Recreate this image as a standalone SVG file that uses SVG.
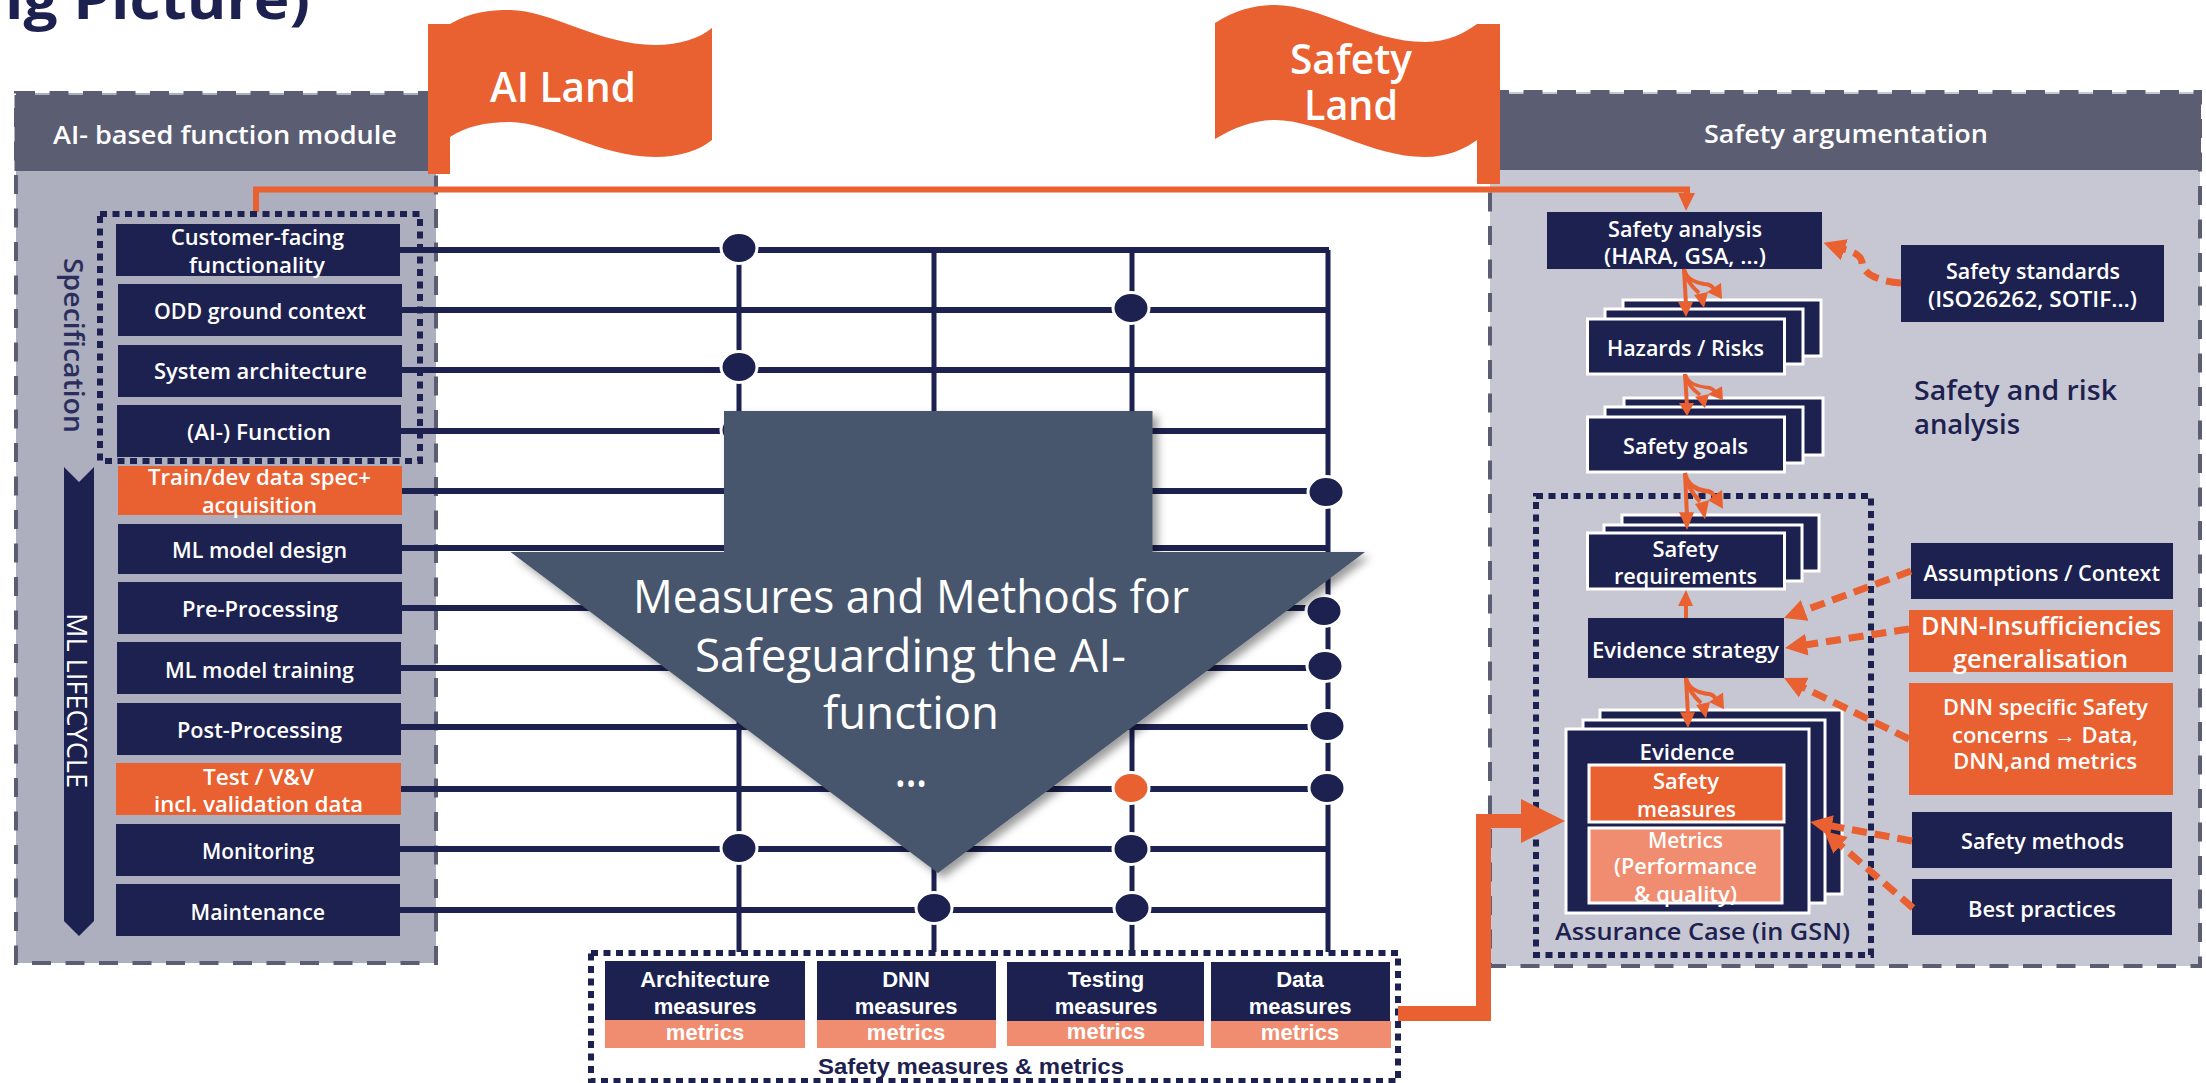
<svg xmlns="http://www.w3.org/2000/svg" width="2206" height="1083" viewBox="0 0 2206 1083">
<style>
text{font-family:"Open Sans","Noto Sans","Liberation Sans",sans-serif;font-weight:600;fill:#fff;font-size:21px}
text:not([transform]){transform:translateY(1px)}
.navy{fill:#1d2150}.org{fill:#e96031}.sal{fill:#f08d70}
.n{fill:#1d2150}.st{fill:#1d2150;stroke:#fff;stroke-width:3}
.ar{font-family:"Liberation Sans",Arial,sans-serif;font-weight:700;font-size:22px}
.dot{fill:none;stroke:#1d2150;stroke-width:6;stroke-dasharray:7 5.5}
.pb{stroke:#5b5d73;stroke-width:4;stroke-dasharray:19 14.5}
.h{fill:none;stroke:#1d2150;stroke-width:6}
.v{fill:none;stroke:#1d2150;stroke-width:5}
.o{fill:#1d2150;stroke:#fff;stroke-width:3}
.dash{fill:none;stroke:#e96031;stroke-width:7;stroke-dasharray:15 8;marker-end:url(#dh)}
.br{fill:none;stroke:#e96031;stroke-width:4}
</style>
<defs>
<marker id="dh" markerUnits="userSpaceOnUse" markerWidth="24" markerHeight="24" viewBox="0 0 24 24" refX="12" refY="12" orient="auto"><path d="M0,1L22,12L0,23Z" fill="#e96031"/></marker>
<filter id="sh" x="-10%" y="-10%" width="120%" height="120%"><feDropShadow dx="5" dy="5" stdDeviation="4" flood-color="#000" flood-opacity=".4"/></filter>
<g id="branch">
<path class="br" d="M0,0L2,36"/><path class="org" d="M-6,33H9L2,48Z"/>
<path class="br" d="M0,0C2,10 12,14 20,15C24,15 28,17 30,20"/><path class="org" d="M23,23L37,14L38,30Z"/>
<path class="br" d="M0,2C3,12 8,18 15,24"/><path class="org" d="M10,26L24,23L20,39Z"/>
</g>
</defs>

<text class="navy" x="5" y="18" textLength="305" lengthAdjust="spacingAndGlyphs" style="font-size:56px;font-weight:700">ig Picture)</text>

<g id="panel-left">
<rect class="pb" x="16" y="93" width="420" height="870" fill="#adafbf"/>
<rect x="14.5" y="95" width="422" height="76" fill="#5b5d73"/>
<text x="53" y="143" textLength="344" lengthAdjust="spacingAndGlyphs" style="font-size:25px">AI- based function module</text>
</g>
<g id="panel-right">
<rect class="pb" x="1490" y="92" width="710" height="874" fill="#c6c7d3"/>
<rect x="1490" y="94" width="711" height="76" fill="#5b5d73"/>
<text x="1704" y="142" textLength="284" lengthAdjust="spacingAndGlyphs" style="font-size:25px">Safety argumentation</text>
</g>

<g id="connectors-grid">
<path class="h" d="M400,250H1329M402,310H1329M402,370H1329M401,431H1329M402,491H1329M402,548H1329M402,608H1329M401,668H1329M401,727H1329M401,789H1329M400,849H1329M400,910H1329"/>
<path class="v" d="M739,250V952M934,250V952M1132,250V952M1328,250V952"/>
<ellipse class="o" cx="739" cy="248" rx="18" ry="15.5"/>
<ellipse class="o" cx="1131" cy="308" rx="18" ry="15.5"/>
<ellipse class="o" cx="739" cy="367" rx="18" ry="15.5"/>
<ellipse class="o" cx="739" cy="430" rx="18" ry="15.5"/>
<ellipse class="o" cx="1326" cy="492" rx="18" ry="15.5"/>
<ellipse class="o" cx="1324" cy="611" rx="18" ry="15.5"/>
<ellipse class="o" cx="1325" cy="666" rx="18" ry="15.5"/>
<ellipse class="o" cx="1327" cy="726" rx="18" ry="15.5"/>
<ellipse class="o" cx="1327" cy="788" rx="18" ry="15.5"/>
<ellipse class="o" cx="1131" cy="788" rx="18" ry="15.5" style="fill:#e96031"/>
<ellipse class="o" cx="739" cy="848" rx="18" ry="15.5"/>
<ellipse class="o" cx="1131" cy="849" rx="18" ry="15.5"/>
<ellipse class="o" cx="934" cy="908" rx="18" ry="15.5"/>
<ellipse class="o" cx="1132" cy="908" rx="18" ry="15.5"/>
<path fill="none" stroke="#e96031" stroke-width="6" d="M256,212V189.5H1687V196"/>
</g>

<g id="flag-ai">
<path class="org" d="M428,24H450C470,12 490,10 510,10C550,10 600,45 655,45C680,45 700,38 712,28V140C700,150 680,157 655,157C600,157 550,122 510,122C485,122 465,127 450,137V174H428Z"/>
<text x="490" y="101" textLength="146" lengthAdjust="spacingAndGlyphs" style="font-size:41px">AI Land</text>
</g>
<g id="flag-safety">
<path class="org" d="M1215,23C1235,10 1255,5 1275,5C1320,5 1370,42 1425,42C1447,42 1465,33 1477,24H1500V184H1477V140C1465,149 1447,157 1425,157C1370,157 1320,120 1275,120C1255,120 1235,127 1215,139Z"/>
<text x="1290" y="73" textLength="122" lengthAdjust="spacingAndGlyphs" style="font-size:41px">Safety</text>
<text x="1304" y="119" textLength="94" lengthAdjust="spacingAndGlyphs" style="font-size:41px">Land</text>
</g>

<g id="big-arrow">
<path fill="#46566d" filter="url(#sh)" d="M724,411H1152.5V552H1365L938,873L510.5,552H724Z"/>
<text x="633" y="612" textLength="556" lengthAdjust="spacingAndGlyphs" style="font-size:45px;font-weight:400">Measures and Methods for</text>
<text x="695" y="671" textLength="431" lengthAdjust="spacingAndGlyphs" style="font-size:45px;font-weight:400">Safeguarding the AI-</text>
<text x="823" y="728" textLength="176" lengthAdjust="spacingAndGlyphs" style="font-size:45px;font-weight:400">function</text>
<text x="895" y="786" textLength="32" lengthAdjust="spacingAndGlyphs" style="font-size:45px;font-weight:600">...</text>
</g>

<g id="spec-label"><text class="navy" transform="translate(64,258) rotate(90)" textLength="175" lengthAdjust="spacingAndGlyphs" style="font-size:27px;font-weight:600;fill:#2b2e5c">Specification</text></g>
<g id="lifecycle">
<path class="n" d="M64,467L79,482L94,467V921L79,936L64,921Z"/>
<text transform="translate(67,613) rotate(90)" textLength="175" lengthAdjust="spacingAndGlyphs" style="font-size:27px;font-weight:400">ML LIFECYCLE</text>
</g>
<rect id="spec-box" class="dot" x="100" y="214" width="320" height="247"/>

<g id="n-customer"><rect class="n" x="116" y="224" width="284" height="52"/><text x="171" y="244" textLength="173" lengthAdjust="spacingAndGlyphs">Customer-facing</text><text x="189" y="272" textLength="136" lengthAdjust="spacingAndGlyphs">functionality</text></g>
<g id="n-odd"><rect class="n" x="118" y="284" width="284" height="52"/><text x="154" y="318" textLength="212" lengthAdjust="spacingAndGlyphs">ODD ground context</text></g>
<g id="n-sys"><rect class="n" x="118" y="345" width="284" height="52"/><text x="154" y="378" textLength="213" lengthAdjust="spacingAndGlyphs">System architecture</text></g>
<g id="n-func"><rect class="n" x="117" y="405" width="284" height="52"/><text x="187" y="439" textLength="144" lengthAdjust="spacingAndGlyphs">(AI-) Function</text></g>
<g id="n-train"><rect class="org" x="118" y="466" width="284" height="49"/><text x="148" y="484" textLength="223" lengthAdjust="spacingAndGlyphs">Train/dev data spec+</text><text x="202" y="512" textLength="115" lengthAdjust="spacingAndGlyphs">acquisition</text></g>
<g id="n-design"><rect class="n" x="118" y="524" width="284" height="50"/><text x="172" y="557" textLength="175" lengthAdjust="spacingAndGlyphs">ML model design</text></g>
<g id="n-pre"><rect class="n" x="118" y="582" width="284" height="52"/><text x="182" y="616" textLength="156" lengthAdjust="spacingAndGlyphs">Pre-Processing</text></g>
<g id="n-training"><rect class="n" x="117" y="642" width="284" height="52"/><text x="165" y="677" textLength="189" lengthAdjust="spacingAndGlyphs">ML model training</text></g>
<g id="n-post"><rect class="n" x="117" y="703" width="284" height="52"/><text x="177" y="737" textLength="165" lengthAdjust="spacingAndGlyphs">Post-Processing</text></g>
<g id="n-test"><rect class="org" x="116" y="763" width="285" height="52"/><text x="203" y="784" textLength="111" lengthAdjust="spacingAndGlyphs">Test / V&amp;V</text><text x="154" y="811" textLength="209" lengthAdjust="spacingAndGlyphs">incl. validation data</text></g>
<g id="n-mon"><rect class="n" x="116" y="824" width="284" height="52"/><text x="202" y="858" textLength="112" lengthAdjust="spacingAndGlyphs">Monitoring</text></g>
<g id="n-maint"><rect class="n" x="116" y="884" width="284" height="52"/><text x="190.5" y="919" textLength="134.5" lengthAdjust="spacingAndGlyphs">Maintenance</text></g>

<rect id="measures-box" class="dot" x="591" y="953" width="807" height="128"/>
<g id="m-arch"><rect class="n" x="605" y="961" width="200" height="59"/><rect class="sal" x="605" y="1020" width="200" height="28"/><text class="ar" x="705" y="986" text-anchor="middle">Architecture</text><text class="ar" x="705" y="1013" text-anchor="middle">measures</text><text class="ar" x="705" y="1039" text-anchor="middle">metrics</text></g>
<g id="m-dnn"><rect class="n" x="817" y="961" width="179" height="59"/><rect class="sal" x="817" y="1020" width="179" height="28"/><text class="ar" x="906" y="986" text-anchor="middle">DNN</text><text class="ar" x="906" y="1013" text-anchor="middle">measures</text><text class="ar" x="906" y="1039" text-anchor="middle">metrics</text></g>
<g id="m-test"><rect class="n" x="1007" y="962" width="197" height="59"/><rect class="sal" x="1007" y="1021" width="197" height="25"/><text class="ar" x="1106" y="986" text-anchor="middle">Testing</text><text class="ar" x="1106" y="1013" text-anchor="middle">measures</text><text class="ar" x="1106" y="1038" text-anchor="middle">metrics</text></g>
<g id="m-data"><rect class="n" x="1211" y="962" width="179" height="59"/><rect class="sal" x="1211" y="1021" width="180" height="27"/><text class="ar" x="1300" y="986" text-anchor="middle">Data</text><text class="ar" x="1300" y="1013" text-anchor="middle">measures</text><text class="ar" x="1300" y="1039" text-anchor="middle">metrics</text></g>
<text class="ar navy" x="818" y="1073" textLength="306" lengthAdjust="spacingAndGlyphs">Safety measures &amp; metrics</text>

<g id="n-analysis"><rect class="n" x="1547" y="212" width="275" height="57"/><text x="1608" y="236" textLength="154" lengthAdjust="spacingAndGlyphs">Safety analysis</text><text x="1604" y="263" textLength="162" lengthAdjust="spacingAndGlyphs">(HARA, GSA, …)</text></g>
<g id="n-standards"><rect class="n" x="1901" y="245" width="263" height="77"/><text x="1946" y="278" textLength="174" lengthAdjust="spacingAndGlyphs">Safety standards</text><text x="1928" y="306" textLength="209" lengthAdjust="spacingAndGlyphs">(ISO26262, SOTIF…)</text></g>
<g id="n-hazards"><rect class="st" x="1623" y="300" width="198" height="56"/><rect class="st" x="1605" y="309" width="198" height="55"/><rect class="st" x="1587.5" y="319" width="197" height="55"/><text x="1607" y="355" textLength="157" lengthAdjust="spacingAndGlyphs">Hazards / Risks</text></g>
<g id="n-goals"><rect class="st" x="1624" y="398" width="199" height="57"/><rect class="st" x="1605" y="407" width="198" height="56"/><rect class="st" x="1587.5" y="417" width="197" height="55"/><text x="1623" y="453" textLength="125" lengthAdjust="spacingAndGlyphs">Safety goals</text></g>
<text class="navy" x="1914" y="399" textLength="203" lengthAdjust="spacingAndGlyphs" style="font-size:27px">Safety and risk</text>
<text class="navy" x="1914" y="433" textLength="106" lengthAdjust="spacingAndGlyphs" style="font-size:27px">analysis</text>

<rect id="assurance-box" class="dot" x="1536" y="496" width="335" height="459"/>
<g id="n-req"><rect class="st" x="1622" y="515" width="197" height="56"/><rect class="st" x="1604" y="525" width="198" height="56"/><rect class="st" x="1587.5" y="533" width="197" height="56"/><text x="1652.5" y="556" textLength="66" lengthAdjust="spacingAndGlyphs">Safety</text><text x="1614" y="583" textLength="143" lengthAdjust="spacingAndGlyphs">requirements</text></g>
<g id="n-strategy"><rect class="n" x="1588" y="618" width="196" height="60"/><text x="1592" y="657" textLength="187" lengthAdjust="spacingAndGlyphs">Evidence strategy</text></g>
<g id="n-evidence"><rect class="st" x="1600" y="710" width="242" height="184"/><rect class="st" x="1583" y="720" width="242" height="183"/><rect class="st" x="1566" y="729" width="243" height="184"/>
<text x="1639.5" y="759" textLength="95" lengthAdjust="spacingAndGlyphs">Evidence</text>
<rect class="org" x="1589" y="765" width="195" height="57" stroke="#fff" stroke-width="3"/><text x="1653" y="788" textLength="66" lengthAdjust="spacingAndGlyphs">Safety</text><text x="1637" y="816" textLength="99" lengthAdjust="spacingAndGlyphs">measures</text>
<rect class="sal" x="1589" y="828" width="193" height="75" stroke="#fff" stroke-width="3"/><text x="1648" y="847" textLength="75" lengthAdjust="spacingAndGlyphs">Metrics</text><text x="1614" y="873" textLength="143" lengthAdjust="spacingAndGlyphs">(Performance</text><text x="1634" y="901" textLength="103" lengthAdjust="spacingAndGlyphs">&amp; quality)</text></g>
<text class="navy" x="1555" y="939" textLength="295" lengthAdjust="spacingAndGlyphs" style="font-size:24px">Assurance Case (in GSN)</text>

<g id="n-assump"><rect class="n" x="1911" y="543" width="262" height="56"/><text x="1923.5" y="580" textLength="236.5" lengthAdjust="spacingAndGlyphs">Assumptions / Context</text></g>
<g id="n-insuff"><rect class="org" x="1909" y="610" width="264" height="62"/><text x="1921" y="634" textLength="240" lengthAdjust="spacingAndGlyphs" style="font-size:25px">DNN-Insufficiencies</text><text x="1953" y="667" textLength="175" lengthAdjust="spacingAndGlyphs" style="font-size:25px">generalisation</text></g>
<g id="n-specific"><rect class="org" x="1909" y="683" width="264" height="112"/><text x="1943" y="714" textLength="205" lengthAdjust="spacingAndGlyphs">DNN specific Safety</text><text x="1952" y="742" textLength="186" lengthAdjust="spacingAndGlyphs">concerns → Data,</text><text x="1953" y="768" textLength="184" lengthAdjust="spacingAndGlyphs">DNN,and  metrics</text></g>
<g id="n-methods"><rect class="n" x="1912" y="812" width="260" height="56"/><text x="1961" y="848" textLength="163" lengthAdjust="spacingAndGlyphs">Safety methods</text></g>
<g id="n-best"><rect class="n" x="1912" y="879" width="260" height="56"/><text x="1968" y="916" textLength="148" lengthAdjust="spacingAndGlyphs">Best practices</text></g>

<g id="connectors-flow">
<path class="org" d="M1678,193H1695L1686,211Z"/>
<path class="org" d="M1398,1006H1476V814H1521V799L1565,821L1521,843V828H1491V1021H1398Z"/>
<use href="#branch" transform="translate(1684,269)"/>
<use href="#branch" transform="translate(1685,374) scale(1,.875)"/>
<use href="#branch" transform="translate(1685,473) scale(1,1.19)"/>
<use href="#branch" transform="translate(1686,678) scale(1,1.04)"/>
<path class="br" d="M1686,618V604"/><path class="org" d="M1678,606H1693L1686,590Z"/>
<path class="dash" d="M1901,283C1875,281 1862,272 1862,262C1860,252 1848,251 1833,246"/>
<path class="dash" d="M1911,571L1793.4,614.5"/>
<path class="dash" d="M1909,629L1795,646.5"/>
<path class="dash" d="M1909,739L1793,682.4"/>
<path class="dash" d="M1912,841L1820,823.8"/>
<path class="dash" d="M1913,908L1831.6,837.5"/>
</g>
</svg>
